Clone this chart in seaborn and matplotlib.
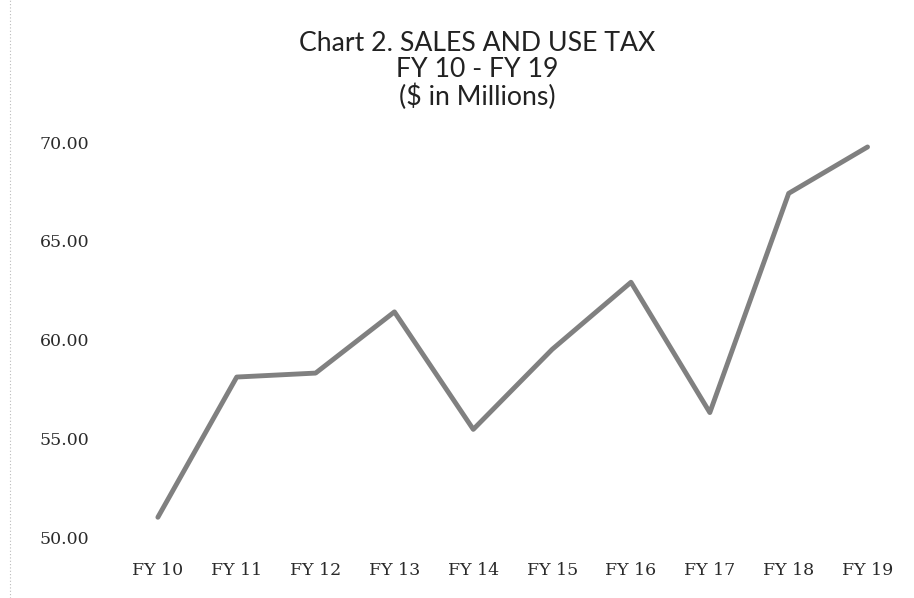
import pandas as pd
import matplotlib
matplotlib.use('Agg')
import matplotlib.pyplot as plt
from matplotlib.lines import Line2D
import seaborn as sns

# Chart 2. Sales and use tax, FY 10 - FY 19 ($ in millions)
years = ['FY 10', 'FY 11', 'FY 12', 'FY 13', 'FY 14', 'FY 15', 'FY 16', 'FY 17', 'FY 18', 'FY 19']
tax = [51.0, 58.1, 58.3, 61.4, 55.45, 59.5, 62.9, 56.3, 67.4, 69.75]
y_ticks = [50, 55, 60, 65, 70]

df = pd.DataFrame({'Year': years, 'Tax': tax})

sns.set_style('white')

fig = plt.figure(figsize=(9.14, 5.98), dpi=100)
ax = fig.add_axes([0.1296, 0.102, 0.8627, 0.6605])

sns.lineplot(data=df, x='Year', y='Tax', ax=ax, color='#808080', linewidth=3.5,
             sort=False, clip_on=False, solid_capstyle='round', solid_joinstyle='round')

ax.set_xlim(-0.5, len(years) - 0.5)
ax.set_ylim(50, 70)
ax.set_yticks(y_ticks)
ax.set_yticklabels([f'{v:.2f}' for v in y_ticks])
ax.set_xlabel('')
ax.set_ylabel('')
sns.despine(ax=ax, left=True, bottom=True)
ax.tick_params(axis='y', length=0, pad=21, labelsize=12.5, labelcolor='#2a2a2a')
ax.tick_params(axis='x', length=0, pad=18, labelsize=12.5, labelcolor='#2a2a2a')
for lbl in ax.get_xticklabels() + ax.get_yticklabels():
    lbl.set_family('DejaVu Serif')

fig.text(0.522, 0.882, 'Chart 2. SALES AND USE TAX\nFY 10 - FY 19\n($ in Millions)',
         ha='center', va='center', fontsize=19.2, family='Lato', color='#222222',
         linespacing=1.08)

# faint dotted scan border on the left
fig.add_artist(Line2D([0.011, 0.011], [0.0, 1.0], transform=fig.transFigure,
                      color='#bbbbbb', linestyle=(0, (1, 2)), linewidth=0.8))

fig.savefig('out.png', dpi=100)
